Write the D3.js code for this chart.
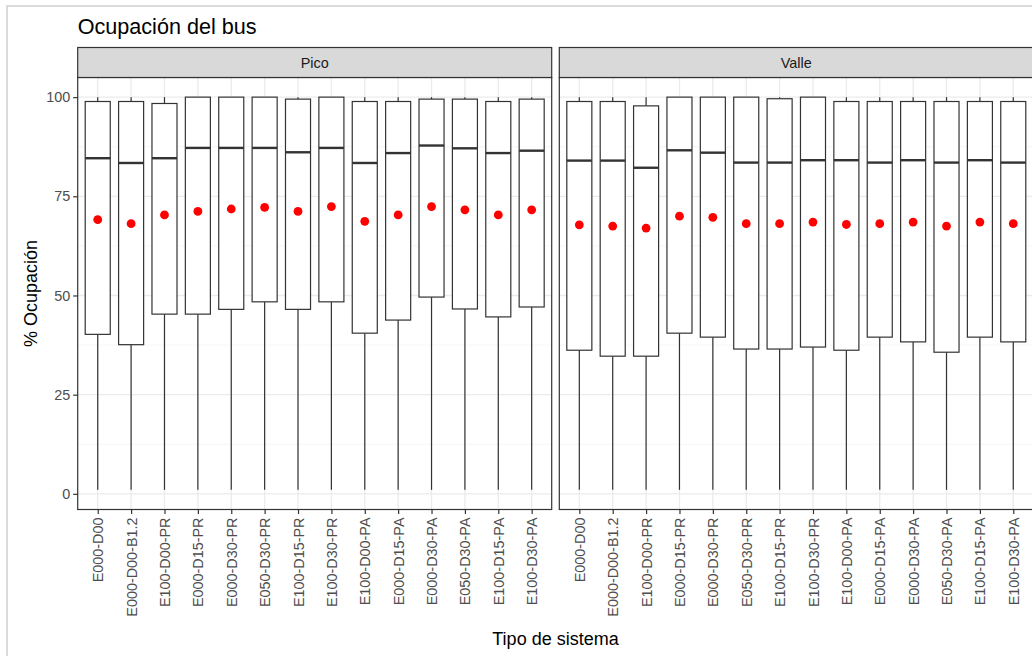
<!DOCTYPE html>
<html>
<head>
<meta charset="utf-8">
<script src="https://cdn.jsdelivr.net/npm/d3@7"></script>
<style>
  html, body { margin: 0; padding: 0; background: #fff; overflow: hidden; }
  svg { display: block; font-family: "Liberation Sans", Arial, sans-serif; }
</style>
</head>
<body>
<svg id="chart" width="1032" height="656"></svg>
<script>
// Bus occupancy by system type, split into peak (Pico) and off-peak (Valle) panels
const categories = ["E000-D00", "E000-D00-B1.2", "E100-D00-PR", "E000-D15-PR", "E000-D30-PR",
  "E050-D30-PR", "E100-D15-PR", "E100-D30-PR", "E100-D00-PA", "E000-D15-PA",
  "E000-D30-PA", "E050-D30-PA", "E100-D15-PA", "E100-D30-PA"];
const panels = ["Pico", "Valle"];
const yTicks = [0, 25, 50, 75, 100];
const yMinorTicks = [12.5, 37.5, 62.5, 87.5];

// Pico
const picoMin    = [1, 1, 1, 1, 1, 1, 1, 1, 1, 1, 1, 1, 1, 1];
const picoQ1     = [40.2, 37.6, 45.3, 45.3, 46.5, 48.4, 46.5, 48.4, 40.5, 43.8, 49.6, 46.6, 44.6, 47.1];
const picoMedian = [84.6, 83.4, 84.6, 87.2, 87.2, 87.2, 86.1, 87.2, 83.4, 85.9, 87.8, 87.1, 85.9, 86.5];
const picoQ3     = [98.9, 98.9, 98.4, 100, 100, 100, 99.5, 100, 98.9, 98.9, 99.5, 99.5, 98.9, 99.5];
const picoMax    = [100, 100, 100, 100, 100, 100, 100, 100, 100, 100, 100, 100, 100, 100];
const picoMean   = [69.1, 68.1, 70.3, 71.2, 71.8, 72.2, 71.2, 72.4, 68.7, 70.3, 72.4, 71.6, 70.3, 71.6];

// Valle
const valleMin    = [1, 1, 1, 1, 1, 1, 1, 1, 1, 1, 1, 1, 1, 1];
const valleQ1     = [36.2, 34.7, 34.7, 40.5, 39.5, 36.5, 36.5, 37.0, 36.2, 39.5, 38.3, 35.7, 39.5, 38.3];
const valleMedian = [84.0, 84.0, 82.2, 86.6, 86.0, 83.5, 83.5, 84.1, 84.1, 83.5, 84.1, 83.5, 84.1, 83.5];
const valleQ3     = [98.9, 98.9, 97.8, 100, 100, 100, 99.6, 100, 98.9, 98.9, 98.9, 98.9, 98.9, 98.9];
const valleMax    = [100, 100, 100, 100, 100, 100, 100, 100, 100, 100, 100, 100, 100, 100];
const valleMean   = [67.8, 67.5, 67.0, 70.0, 69.7, 68.1, 68.1, 68.5, 67.9, 68.1, 68.5, 67.5, 68.5, 68.1];

function rows(mins, q1, med, q3, maxs, means) {
  return categories.map((c, i) => ({
    cat: c, min: mins[i], q1: q1[i], median: med[i], q3: q3[i], max: maxs[i], mean: means[i]
  }));
}
const panelData = {
  "Pico": rows(picoMin, picoQ1, picoMedian, picoQ3, picoMax, picoMean),
  "Valle": rows(valleMin, valleQ1, valleMedian, valleQ3, valleMax, valleMean)
};

const svg = d3.select("#chart");
const dark = "#333333";
const textGray = "#4D4D4D";

// frame around the figure
svg.append("rect")
  .attr("x", 7).attr("y", 6).attr("width", 1100).attr("height", 700)
  .attr("fill", "none").attr("stroke", "#D0D0D0").attr("stroke-width", 1.5);

const panelTop = 77.5, panelBottom = 509.5, stripTop = 47.5;
const panelWidth = 474, panelGap = 7.6, firstLeft = 77.7;

const y = d3.scaleLinear().domain([-3.95, 104.95]).range([panelBottom, panelTop]);

// title
svg.append("text")
  .attr("x", firstLeft).attr("y", 34)
  .attr("font-size", 21.6).attr("fill", "#000")
  .text("Ocupación del bus");

panels.forEach((p, pi) => {
  const left = firstLeft + pi * (panelWidth + panelGap);
  const x = d3.scalePoint().domain(categories).range([left, left + panelWidth]).padding(0.6);
  const boxW = x.step() * 0.75;
  const g = svg.append("g");
  const data = panelData[p];

  // grid
  g.selectAll(".minor").data(yMinorTicks).join("line")
    .attr("x1", left).attr("x2", left + panelWidth)
    .attr("y1", d => y(d)).attr("y2", d => y(d))
    .attr("stroke", "#F2F2F2").attr("stroke-width", 0.8);
  g.selectAll(".major").data(yTicks).join("line")
    .attr("x1", left).attr("x2", left + panelWidth)
    .attr("y1", d => y(d)).attr("y2", d => y(d))
    .attr("stroke", "#EBEBEB").attr("stroke-width", 1.3);
  g.selectAll(".vgrid").data(categories).join("line")
    .attr("x1", d => x(d)).attr("x2", d => x(d))
    .attr("y1", panelTop).attr("y2", panelBottom)
    .attr("stroke", "#EBEBEB").attr("stroke-width", 1.3);

  // whiskers
  g.selectAll(".wlo").data(data).join("line")
    .attr("x1", d => x(d.cat)).attr("x2", d => x(d.cat))
    .attr("y1", d => y(d.q1)).attr("y2", d => y(d.min))
    .attr("stroke", dark).attr("stroke-width", 1.2);
  g.selectAll(".whi").data(data).join("line")
    .attr("x1", d => x(d.cat)).attr("x2", d => x(d.cat))
    .attr("y1", d => y(d.q3)).attr("y2", d => y(d.max))
    .attr("stroke", dark).attr("stroke-width", 1.2);

  // boxes
  g.selectAll(".box").data(data).join("rect")
    .attr("x", d => x(d.cat) - boxW / 2).attr("width", boxW)
    .attr("y", d => y(d.q3)).attr("height", d => y(d.q1) - y(d.q3))
    .attr("fill", "#fff").attr("stroke", dark).attr("stroke-width", 1.2);
  g.selectAll(".med").data(data).join("line")
    .attr("x1", d => x(d.cat) - boxW / 2).attr("x2", d => x(d.cat) + boxW / 2)
    .attr("y1", d => y(d.median)).attr("y2", d => y(d.median))
    .attr("stroke", dark).attr("stroke-width", 2.4);

  // means
  g.selectAll(".mean").data(data).join("circle")
    .attr("cx", d => x(d.cat)).attr("cy", d => y(d.mean)).attr("r", 4.4)
    .attr("fill", "#FF0000");

  // panel border
  g.append("rect")
    .attr("x", left).attr("y", panelTop).attr("width", panelWidth).attr("height", panelBottom - panelTop)
    .attr("fill", "none").attr("stroke", dark).attr("stroke-width", 1.2);

  // strip
  g.append("rect")
    .attr("x", left).attr("y", stripTop).attr("width", panelWidth).attr("height", panelTop - stripTop)
    .attr("fill", "#D9D9D9").attr("stroke", dark).attr("stroke-width", 1.2);
  g.append("text")
    .attr("x", left + panelWidth / 2).attr("y", (stripTop + panelTop) / 2)
    .attr("dy", "0.35em").attr("text-anchor", "middle")
    .attr("font-size", 14.4).attr("fill", "#1A1A1A")
    .text(p);

  // x axis
  const xAxis = d3.axisBottom(x).tickSize(4.5).tickPadding(3);
  const ax = g.append("g").attr("transform", `translate(0,${panelBottom})`).call(xAxis);
  ax.select(".domain").remove();
  ax.selectAll(".tick line").attr("stroke", dark).attr("stroke-width", 1.2);
  ax.selectAll(".tick text")
    .attr("font-size", 14.4).attr("fill", textGray)
    .attr("font-family", "'Liberation Sans', Arial, sans-serif")
    .attr("transform", "rotate(-90)")
    .attr("text-anchor", "end")
    .attr("x", -8).attr("y", 0).attr("dy", "0.35em");

  // y axis (first panel only)
  if (pi === 0) {
    const yAxis = d3.axisLeft(y).tickValues(yTicks).tickSize(4.5).tickPadding(3);
    const ay = g.append("g").attr("transform", `translate(${left},0)`).call(yAxis);
    ay.select(".domain").remove();
    ay.selectAll(".tick line").attr("stroke", dark).attr("stroke-width", 1.2);
    ay.selectAll(".tick text")
      .attr("font-size", 14.4).attr("fill", textGray)
      .attr("font-family", "'Liberation Sans', Arial, sans-serif");
  }
});

// axis titles
svg.append("text")
  .attr("transform", `translate(31,${(panelTop + panelBottom) / 2}) rotate(-90)`)
  .attr("text-anchor", "middle").attr("dy", "0.35em")
  .attr("font-size", 18).attr("fill", "#000")
  .text("% Ocupación");
svg.append("text")
  .attr("x", firstLeft + (2 * panelWidth + panelGap) / 2).attr("y", 645)
  .attr("text-anchor", "middle")
  .attr("font-size", 18).attr("fill", "#000")
  .text("Tipo de sistema");
</script>
</body>
</html>
